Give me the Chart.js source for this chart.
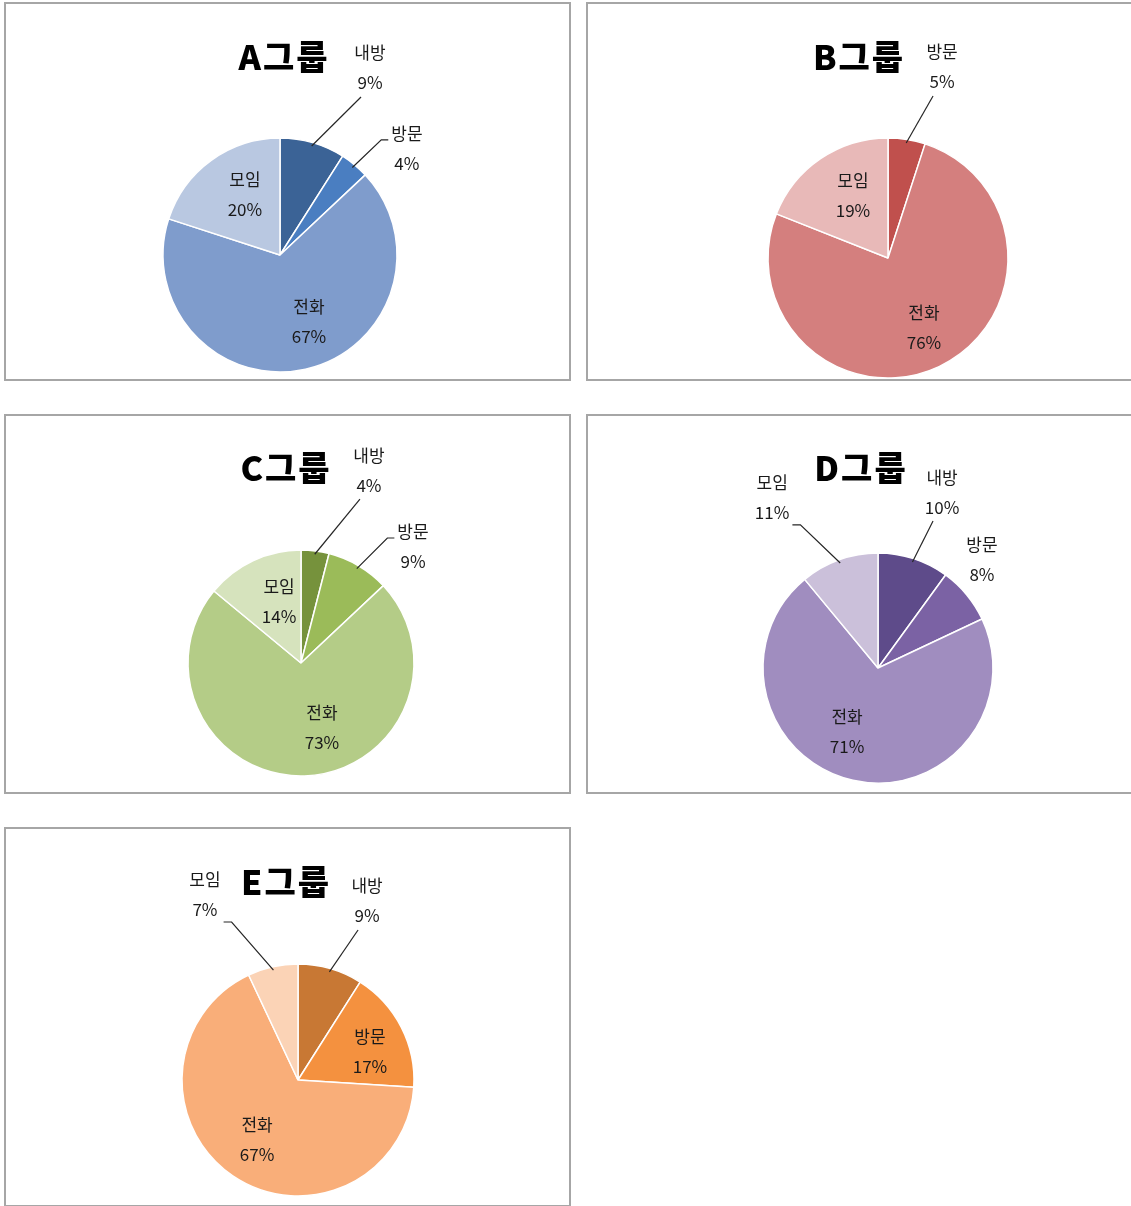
<!DOCTYPE html>
<html><head><meta charset="utf-8">
<script src="https://cdn.jsdelivr.net/npm/chart.js@4.4.1/dist/chart.umd.min.js"></script>
<style>
html,body{margin:0;padding:0;background:#fff;overflow:hidden;width:1131px;height:1206px;}
.wrap{position:absolute;}
.frame{position:absolute;box-sizing:border-box;border:2px solid #a6a6a6;pointer-events:none;}
</style></head><body>
<script>
// ---- data ----
const categories = ['내방', '방문', '전화', '모임'];
const groupTitles = ['A그룹', 'B그룹', 'C그룹', 'D그룹', 'E그룹'];
const valuesA = [9, 4, 67, 20];
const valuesB = [0, 5, 76, 19];
const valuesC = [4, 9, 73, 14];
const valuesD = [10, 8, 71, 11];
const valuesE = [9, 17, 67, 7];

// ---- styles ----
const colorsA = ['#3b6396', '#4a7ec1', '#7f9ccc', '#b9c8e1'];
const colorsB = ['#8c3836', '#c0504d', '#d47f7e', '#e8b9b8'];
const colorsC = ['#76923c', '#9bbb59', '#b4cc87', '#d6e3bd'];
const colorsD = ['#5e4b8a', '#7b62a4', '#a08dbf', '#cbc0da'];
const colorsE = ['#c87834', '#f4913f', '#f9ae79', '#fbd3b6'];

// ---- layout (page px) ----
const panels = [
  {x: 4,   y: 2,   w: 567, h: 379, cx: 280, cy: 255,  r: 117, tx: 283, ty: 57},
  {x: 586, y: 2,   w: 566, h: 379, cx: 888, cy: 258,  r: 120, tx: 858, ty: 57},
  {x: 4,   y: 414, w: 567, h: 380, cx: 301, cy: 663,  r: 113, tx: 285, ty: 468},
  {x: 586, y: 414, w: 566, h: 380, cx: 878, cy: 668,  r: 115, tx: 860, ty: 468},
  {x: 4,   y: 827, w: 567, h: 380, cx: 298, cy: 1080, r: 116, tx: 285, ty: 882}
];
// label placement: k = radius factor, da = angle shift from slice middle (deg), lead = leader style
const placeA = [{k:1.774,da:9.5,lead:'up'}, {k:1.414,da:10.5,lead:'left'}, {k:0.624,da:-10.8}, {k:0.594,da:5.7}];
const placeB = [null, {k:1.654,da:6.8,lead:'up'}, {k:0.656,da:-2}, {k:0.6,da:5.1}];
const placeC = [{k:1.81,da:12.2,lead:'up'}, {k:1.427,da:13.4,lead:'left'}, {k:0.604,da:-16.1}, {k:0.574,da:5.4}];
const placeD = [{k:1.628,da:2,lead:'up'}, {k:1.304,da:-6.5}, {k:0.618,da:13.2}, {k:1.742,da:-12.1,lead:'right'}];
const placeE = [{k:1.654,da:4.9,lead:'up'}, {k:0.666,da:5.7}, {k:0.626,da:0.1}, {k:1.785,da:-14.1,lead:'right'}];

const allValues = [valuesA, valuesB, valuesC, valuesD, valuesE];
const allColors = [colorsA, colorsB, colorsC, colorsD, colorsE];
const allPlace = [placeA, placeB, placeC, placeD, placeE];

const KFONT = '"Noto Sans CJK KR", "Malgun Gothic", sans-serif';

const labelPlugin = {
  id: 'pieLabels',
  afterDatasetsDraw(chart) {
    const cfg = chart.options.plugins.pieLabels;
    const ctx = chart.ctx;
    const meta = chart.getDatasetMeta(0);
    const data = chart.data.datasets[0].data;
    ctx.save();
    ctx.font = '17px ' + KFONT;
    ctx.textAlign = 'center';
    ctx.textBaseline = 'middle';
    meta.data.forEach((arc, i) => {
      const p = cfg.place[i];
      if (!p || !data[i]) return;
      const pr = arc.getProps(['x', 'y', 'startAngle', 'endAngle', 'outerRadius'], true);
      const mid = (pr.startAngle + pr.endAngle) / 2;
      const a = mid + p.da * Math.PI / 180;
      const lx = pr.x + Math.cos(a) * pr.outerRadius * p.k;
      const ly = pr.y + Math.sin(a) * pr.outerRadius * p.k;
      const name = chart.data.labels[i];
      const pct = data[i] + '%';
      const tw = Math.max(ctx.measureText(name).width, ctx.measureText(pct).width);
      if (p.lead) {
        const rx = pr.x + Math.cos(mid) * pr.outerRadius * 0.97;
        const ry = pr.y + Math.sin(mid) * pr.outerRadius * 0.97;
        ctx.strokeStyle = '#262626';
        ctx.lineWidth = 1.2;
        ctx.beginPath();
        ctx.moveTo(rx, ry);
        if (p.lead === 'up') {
          ctx.lineTo(lx - 9, ly + 29);
        } else if (p.lead === 'left') {
          const bx = lx - tw / 2, sy = ly - 9;
          ctx.lineTo(bx - 10, sy);
          ctx.lineTo(bx - 3, sy);
        } else {
          const bx = lx + tw / 2, sy = ly + 27;
          ctx.lineTo(bx + 11, sy);
          ctx.lineTo(bx + 3, sy);
        }
        ctx.stroke();
      }
      ctx.fillStyle = '#1a1a1a';
      ctx.fillText(name, lx, ly - 15);
      ctx.fillText(pct, lx, ly + 15);
    });
    // title
    ctx.font = '900 34px ' + KFONT;
    if ('letterSpacing' in ctx) ctx.letterSpacing = '2px';
    ctx.fillStyle = '#000';
    ctx.textAlign = 'center';
    ctx.textBaseline = 'middle';
    ctx.fillText(cfg.title, cfg.tx + 1, cfg.ty);
    ctx.restore();
  }
};

panels.forEach((pn, idx) => {
  const wrap = document.createElement('div');
  wrap.className = 'wrap';
  wrap.style.left = pn.x + 'px'; wrap.style.top = pn.y + 'px';
  wrap.style.width = pn.w + 'px'; wrap.style.height = pn.h + 'px';
  const cv = document.createElement('canvas');
  cv.width = pn.w; cv.height = pn.h;
  cv.style.width = pn.w + 'px'; cv.style.height = pn.h + 'px';
  wrap.appendChild(cv);
  document.body.appendChild(wrap);
  const frame = document.createElement('div');
  frame.className = 'frame';
  frame.style.left = pn.x + 'px'; frame.style.top = pn.y + 'px';
  frame.style.width = pn.w + 'px'; frame.style.height = pn.h + 'px';
  document.body.appendChild(frame);

  const lcx = pn.cx - pn.x, lcy = pn.cy - pn.y, R = pn.r;
  new Chart(cv, {
    type: 'pie',
    data: {
      labels: categories,
      datasets: [{
        data: allValues[idx],
        backgroundColor: allColors[idx],
        borderColor: '#ffffff',
        borderWidth: 1.5,
        radius: R
      }]
    },
    options: {
      responsive: false,
      animation: false,
      devicePixelRatio: 1,
      layout: {padding: {left: lcx - R, right: pn.w - (lcx + R), top: lcy - R, bottom: pn.h - (lcy + R)}},
      plugins: {
        legend: {display: false},
        tooltip: {enabled: false},
        title: {display: false},
        pieLabels: {place: allPlace[idx], title: groupTitles[idx], tx: pn.tx - pn.x, ty: pn.ty - pn.y}
      }
    },
    plugins: [labelPlugin]
  });
});
</script>
</body></html>
